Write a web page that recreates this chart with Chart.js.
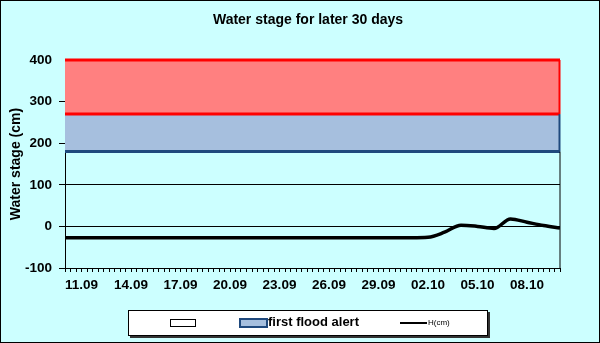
<!DOCTYPE html>
<html>
<head>
<meta charset="utf-8">
<script src="https://cdn.jsdelivr.net/npm/chart.js@4"></script>
<style>
  html, body { margin:0; padding:0; background:#CCFFFF; }
  #wrap { position:relative; width:600px; height:343px; background:#CCFFFF; font-family:Arial, "Liberation Sans", sans-serif; }
  #frame { position:absolute; left:0; top:0; width:598px; height:341px; border:1px solid #000; pointer-events:none; }
  #title { position:absolute; left:0; top:11px; width:616px; text-align:center; font-weight:bold; font-size:14px; color:#000; }
  #legend { position:absolute; left:128px; top:310px; width:358px; height:24px; background:#fff; border:1px solid #000; box-shadow:2px 2px 0 #333; }
  #legend .sw, #legend .txt { position:absolute; }
</style>
</head>
<body>
<div id="wrap">
  <canvas id="stageChart" width="600" height="343"></canvas>
  <div id="title">Water stage for later 30 days</div>
  <div id="legend">
    <div class="sw" style="left:41px;top:8px;width:24px;height:6px;border:1px solid #000;background:#fff;"></div>
    <div class="sw" style="left:110px;top:7px;width:25px;height:6px;border:2px solid #1F497D;background:#A6BFDE;"></div>
    <div class="txt" style="left:139px;top:3px;font-weight:bold;font-size:13px;">first flood alert</div>
    <div class="sw" style="left:271px;top:11px;width:27px;height:2px;background:#000;"></div>
    <div class="txt" style="left:299px;top:7px;font-size:8px;">H(cm)</div>
  </div>
  <div id="frame"></div>
</div>
<script>

// ==========================
// Data
// ==========================

// one entry per day, 10.09 .. 10.10
const dates = [
  "10.09","11.09","12.09","13.09","14.09","15.09","16.09","17.09","18.09","19.09",
  "20.09","21.09","22.09","23.09","24.09","25.09","26.09","27.09","28.09","29.09",
  "30.09","01.10","02.10","03.10","04.10","05.10","06.10","07.10","08.10","09.10","10.10"
];

// water stage H(cm)
const stage = [
  -27,-27,-27,-27,-27,-27,-27,-27,-27,-27,
  -27,-27,-27,-27,-27,-27,-27,-27,-27,-27,
  -27,-27,-26,-14,3,0,-5,18,10,2,-4
];

// stacked band tops (white, first flood alert, red)
const bandTops = [180, 270, 400];

const yTicks = [-100, 0, 100, 200, 300, 400];

// which dates get a label on the x axis
const xLabels = ["11.09","14.09","17.09","20.09","23.09","26.09","29.09","02.10","05.10","08.10"];

const last = dates.length - 1;

const axisFont = {family: "Arial, 'Liberation Sans'", size: 13.5, weight: "bold"};

// ==========================
// Right edge of the bands
// ==========================

const bandEdges = {
  id: "bandEdges",
  afterDatasetsDraw(chart){
    const {ctx, chartArea, scales} = chart;
    const y = scales.y;
    const x = chartArea.right;
    ctx.save();
    ctx.lineWidth = 1;
    ctx.strokeStyle = "#000";
    ctx.beginPath();
    ctx.moveTo(x, y.getPixelForValue(bandTops[0]));
    ctx.lineTo(x, chartArea.bottom);
    ctx.stroke();
    ctx.lineWidth = 2;
    ctx.strokeStyle = "#1F497D";
    ctx.beginPath();
    ctx.moveTo(x - 0.5, y.getPixelForValue(bandTops[0]));
    ctx.lineTo(x - 0.5, y.getPixelForValue(bandTops[1]));
    ctx.stroke();
    ctx.strokeStyle = "#FF0000";
    ctx.beginPath();
    ctx.moveTo(x - 0.5, y.getPixelForValue(bandTops[1]));
    ctx.lineTo(x - 0.5, y.getPixelForValue(bandTops[2]));
    ctx.stroke();
    ctx.restore();
  }
};

// ==========================
// Chart
// ==========================

new Chart(document.getElementById("stageChart"), {

  type: "line",

  data: {
    datasets: [
      {
        label: "H(cm)",
        data: stage.map((v, i) => ({x: i, y: v})),
        borderColor: "#000",
        borderWidth: 3.5,
        pointRadius: 0,
        cubicInterpolationMode: "monotone",
        fill: false,
        order: 0
      },
      {
        label: "",
        data: [{x: 0, y: bandTops[0]}, {x: last, y: bandTops[0]}],
        borderColor: "#1F497D",
        borderWidth: 3,
        pointRadius: 0,
        fill: false,
        order: 3
      },
      {
        label: "first flood alert",
        data: [{x: 0, y: bandTops[1]}, {x: last, y: bandTops[1]}],
        borderColor: "#FF0000",
        backgroundColor: "#A6BFDE",
        borderWidth: 3,
        pointRadius: 0,
        fill: "-1",
        order: 2
      },
      {
        label: "alarm",
        data: [{x: 0, y: bandTops[2]}, {x: last, y: bandTops[2]}],
        borderColor: "#FF0000",
        backgroundColor: "#FF8080",
        borderWidth: 3,
        pointRadius: 0,
        fill: "-1",
        clip: 3,
        order: 1
      }
    ]
  },

  options: {
    responsive: false,
    animation: false,
    layout: {
      padding: {left: 8, top: 60, right: 40, bottom: 51}
    },
    plugins: {
      legend: {display: false},
      title: {display: false},
      tooltip: {enabled: false},
      filler: {drawTime: "beforeDatasetsDraw"}
    },
    scales: {
      x: {
        type: "linear",
        min: 0,
        max: last,
        afterBuildTicks(scale){
          const t = [];
          for(let k = 0; k <= last * 3; k++) t.push({value: k / 3});
          scale.ticks = t;
        },
        afterFit(scale){ scale.height = 24; },
        ticks: {
          autoSkip: false,
          maxRotation: 0,
          padding: 5,
          color: "#000",
          font: axisFont,
          callback(v){
            if(Math.abs(v - Math.round(v)) > 1e-6) return "";
            const d = dates[Math.round(v)];
            return xLabels.includes(d) ? d : "";
          }
        },
        grid: {drawOnChartArea: false, tickLength: 4, color: "#000"},
        border: {color: "#000", width: 1}
      },
      y: {
        min: -100,
        max: 400,
        z: 1,
        afterBuildTicks(scale){
          scale.ticks = yTicks.map(v => ({value: v}));
        },
        afterFit(scale){ scale.width = 57; },
        ticks: {
          padding: 7,
          color: "#000",
          font: axisFont
        },
        title: {
          display: true,
          text: "Water stage (cm)",
          color: "#000",
          padding: {top: 0, bottom: 0},
          font: {family: "Arial, 'Liberation Sans'", size: 14, weight: "bold"}
        },
        grid: {
          tickLength: 6,
          color: ctx => ctx.tick && ctx.tick.value === 400 ? "rgba(0,0,0,0)" : "#000"
        },
        border: {color: "#000", width: 1}
      }
    }
  },

  plugins: [bandEdges]

});

</script>
</body>
</html>
